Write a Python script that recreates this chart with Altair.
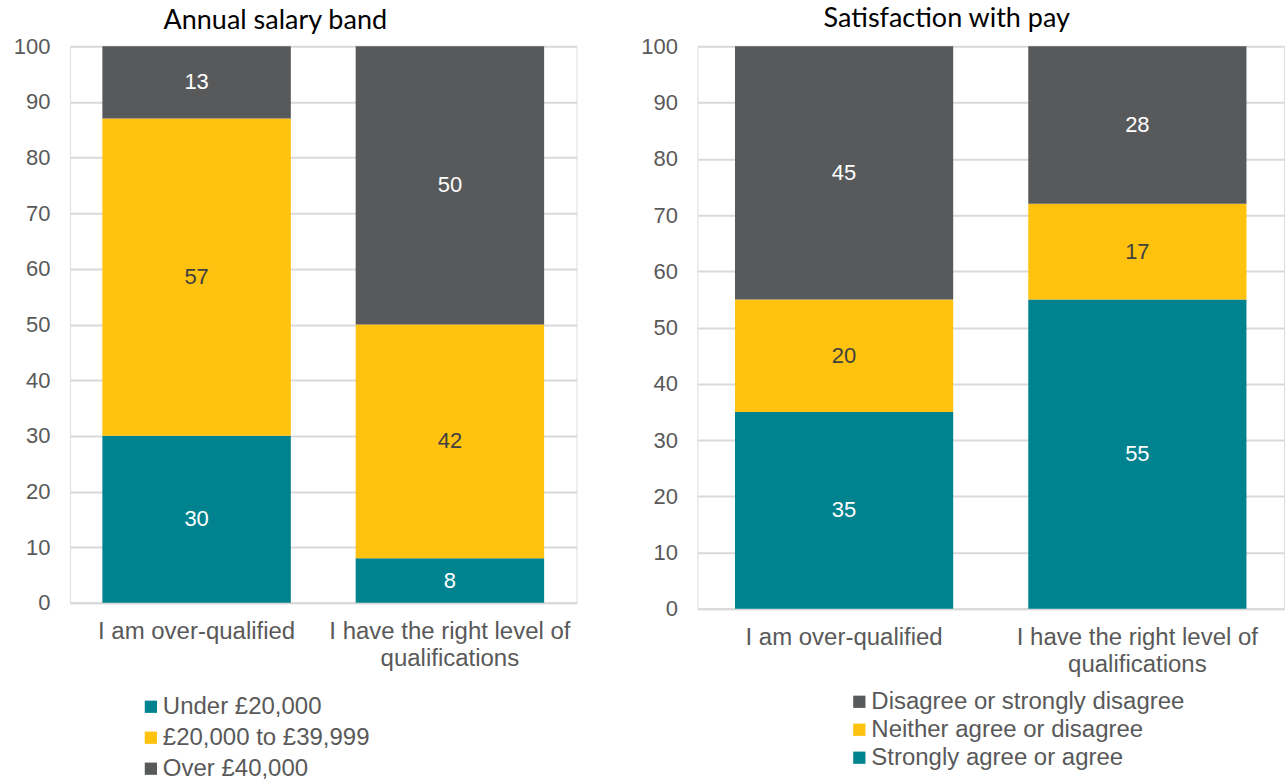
import altair as alt
import pandas as pd

# Response groups shown on both panels
groups = ["I am over-qualified", "I have the right level of qualifications"]

# Annual salary band (percent of respondents)
salary_bands = ["Under £20,000", "£20,000 to £39,999", "Over £40,000"]
salary_under_20k = [30, 8]
salary_20k_40k = [57, 42]
salary_over_40k = [13, 50]

# Satisfaction with pay (percent of respondents)
satisfaction_levels = ["Strongly agree or agree", "Neither agree or disagree", "Disagree or strongly disagree"]
sat_agree = [35, 55]
sat_neither = [20, 17]
sat_disagree = [45, 28]

TEAL = "#00838F"
YELLOW = "#FFC20E"
GREY = "#58595B"
AXIS_GREY = "#595959"
GRID = "#D9D9D9"
FONT = "Liberation Sans"
TITLE_FONT = "Lato"


def long_table(levels, series):
    rows = []
    for rank, (level, values) in enumerate(zip(levels, series)):
        for g, v in zip(groups, values):
            rows.append({"group": g, "level": level, "rank": rank, "value": v})
    return pd.DataFrame(rows)


salary_df = long_table(salary_bands, [salary_under_20k, salary_20k_40k, salary_over_40k])
sat_df = long_table(satisfaction_levels, [sat_agree, sat_neither, sat_disagree])

label_expr = (
    "datum.label == 'I have the right level of qualifications' ? "
    "['I have the right level of', 'qualifications'] : datum.label"
)


def panel(df, title, legend_domain, legend_range, width, height, legend_x, legend_y, row_pad, title_offset, title_dx):
    base = alt.Chart(df).transform_stack(
        stack="value", groupby=["group"], as_=["y0", "y1"], sort=[alt.SortField("rank", order="ascending")]
    ).transform_calculate(
        mid="(datum.y0 + datum.y1) / 2",
        txtcol="datum.level == '%s' || datum.level == '%s' ? 'yellow' : 'other'" % (salary_bands[1], satisfaction_levels[1]),
    )

    x_enc = alt.X(
        "group:N",
        sort=groups,
        title=None,
        scale=alt.Scale(paddingInner=0.256, paddingOuter=0.128),
        axis=alt.Axis(
            labelAngle=0,
            labelExpr=label_expr,
            labelFont=FONT,
            labelFontSize=24,
            labelColor=AXIS_GREY,
            labelPadding=17,
            labelLineHeight=27,
            labelLimit=0,
            ticks=False,
            domainColor=GRID,
            domainWidth=2,
        ),
    )

    bars = base.mark_bar().encode(
        x=x_enc,
        y=alt.Y(
            "y0:Q",
            title=None,
            scale=alt.Scale(domain=[0, 100], nice=False),
            axis=alt.Axis(
                values=list(range(0, 101, 10)),
                labelFont=FONT,
                labelFontSize=22,
                labelColor=AXIS_GREY,
                labelPadding=20,
                ticks=False,
                domain=False,
                gridColor=GRID,
                gridWidth=2,
            ),
        ),
        y2="y1:Q",
        color=alt.Color(
            "level:N",
            scale=alt.Scale(domain=legend_domain, range=legend_range),
            legend=alt.Legend(
                title=None,
                orient="none",
                legendX=legend_x,
                legendY=legend_y,
                direction="vertical",
                symbolType="square",
                symbolSize=150,
                symbolStrokeWidth=0,
                symbolOpacity=1,
                labelFont=FONT,
                labelFontSize=24,
                labelColor=AXIS_GREY,
                labelOffset=0,
                labelLimit=0,
                rowPadding=row_pad,
            ),
        ),
    )

    labels = base.mark_text(font=FONT, fontSize=22).encode(
        x=alt.X("group:N", sort=groups),
        y=alt.Y("mid:Q"),
        text=alt.Text("value:Q"),
        color=alt.Color(
            "txtcol:N",
            scale=alt.Scale(domain=["yellow", "other"], range=["#404040", "#FFFFFF"]),
            legend=None,
        ),
    )

    return alt.layer(bars, labels).resolve_scale(color="independent").properties(
        width=width,
        height=height,
        title=alt.TitleParams(
            title,
            font=TITLE_FONT,
            fontSize=27,
            fontWeight="normal",
            color="#000000",
            anchor="middle",
            offset=title_offset,
            dx=title_dx,
        ),
    )


left = panel(
    salary_df,
    "Annual salary band",
    salary_bands,
    [TEAL, YELLOW, GREY],
    507,
    557,
    69,
    649,
    7,
    0,
    -48,
)

right = panel(
    sat_df,
    "Satisfaction with pay",
    satisfaction_levels[::-1],
    [GREY, YELLOW, TEAL],
    587,
    563,
    150,
    644,
    4,
    2,
    -44,
)

chart = (
    alt.hconcat(left, right, spacing=62)
    .resolve_scale(color="independent")
    .properties(padding={"left": 12, "top": 4, "right": 0, "bottom": 0})
    .configure_view(stroke=None)
    .configure(background="#FFFFFF")
)

chart.save("out.html", embed_options={"renderer": "svg", "actions": False})
